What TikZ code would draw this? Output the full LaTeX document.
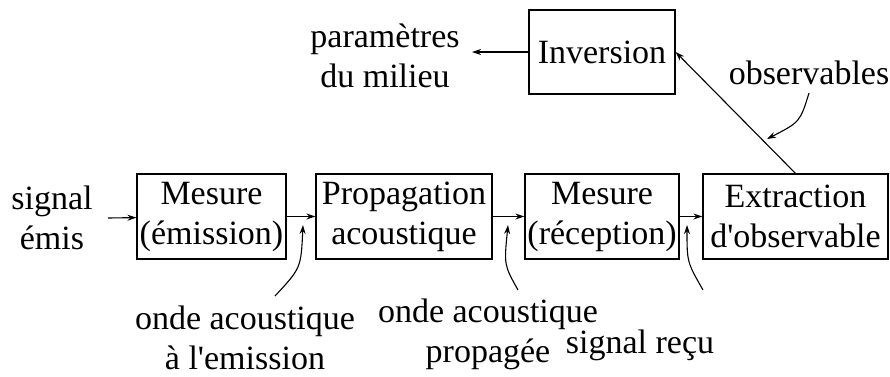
\documentclass[tikz,border=0pt]{standalone}
\usepackage{fontspec}
\setmainfont{Liberation Serif}
\usetikzlibrary{arrows.meta}
\tikzset{
  blocbox/.style={draw, line width=1.2pt, minimum height=85pt, inner sep=2pt, align=center},
  lbl/.style={align=center, inner sep=0pt},
  fl/.style={line width=1.1pt, -{Stealth[length=9pt,width=6pt]}}
}
\begin{document}
\begin{tikzpicture}[x=1pt,y=-1pt,font=\fontsize{34}{40}\selectfont]
\useasboundingbox (0,0) rectangle (890,376);
\node[blocbox, minimum width=149pt] (mesE) at (211.5,216.5){Mesure\\(émission)};
\node[blocbox, minimum width=176pt] (prop) at (404,216.5){Propagation\\acoustique};
\node[blocbox, minimum width=154pt] (mesR) at (602,216.5){Mesure\\(réception)};
\node[blocbox, minimum width=185pt] (extr) at (795.5,216.5){Extraction\\d\textquotesingle observable};
\node[blocbox, minimum width=146pt, minimum height=84pt] (inv) at (602,52){Inversion};
\node[lbl] (sig) at (52,218){signal\\émis};
\node[lbl] (param) at (385,56){paramètres\\du milieu};
\node[lbl] (obs) at (809,73){observables};
\node[lbl] (ondeE) at (245,338){onde acoustique\\à l\textquotesingle emission};
\node[lbl] (ondeP) at (488,334){onde acoustique\\propagée};
\node[lbl] (recu) at (640,345){signal reçu};
\coordinate (sigend) at (108,218);
\coordinate (paramend) at (472,52);
\coordinate (obsA) at (809,93);
\coordinate (obsB) at (767,139);
\coordinate (ondeEA) at (275,296);
\coordinate (ondeEB) at (303,225);
\coordinate (ondePA) at (518,290);
\coordinate (ondePB) at (508,225);
\coordinate (recuA) at (703,290);
\coordinate (recuB) at (687,225);
\draw[fl](sigend) -- (mesE);
\draw[fl](mesE) -- (prop);
\draw[fl](prop) -- (mesR);
\draw[fl](mesR) -- (extr);
\draw[fl](extr.north) -- (inv.east);
\draw[fl](inv.west) -- (paramend);
\draw[fl](obsA) .. controls (800,122) .. (obsB);
\draw[fl](ondeEA) .. controls (301,268) .. (ondeEB);
\draw[fl](ondePA) .. controls (504,265) .. (ondePB);
\draw[fl](recuA) .. controls (687,262) .. (recuB);
\end{tikzpicture}
\end{document}
